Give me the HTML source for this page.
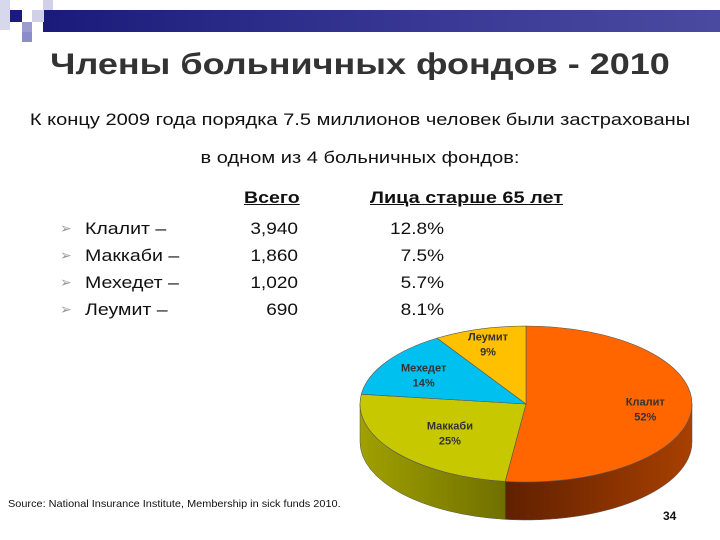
<!DOCTYPE html>
<html><head><meta charset="utf-8">
<style>
body{margin:0;width:720px;height:540px;background:#fff;position:relative;overflow:hidden;font-family:"Liberation Sans","DejaVu Sans",sans-serif;}
.abs{position:absolute;white-space:nowrap;}
</style></head>
<body>
<div class="abs" style="left:43px;top:10px;width:677px;height:22px;background:linear-gradient(90deg,#1a1a7a,#3a3a96 60%,#4a4aa0);"></div>
<div class="abs" style="left:10px;top:10px;width:12px;height:12px;background:#1a1a80;"></div>
<div class="abs" style="left:0;top:0;width:10px;height:30px;background:#d8d8ec;"></div>
<div class="abs" style="left:32px;top:10px;width:12px;height:12px;background:#d0d0e8;"></div>
<div class="abs" style="left:22px;top:22px;width:10px;height:10px;background:#9c9cd0;"></div>
<div class="abs" style="left:22px;top:32px;width:10px;height:10px;background:#8c8cc8;"></div>
<div class="abs" style="left:43px;top:0;width:10px;height:10px;background:#d0d0e8;"></div>

<div class="abs" style="left:0;width:720px;top:48px;text-align:center;font-size:30px;font-weight:bold;color:#333;transform:scaleX(1.2);">Члены больничных фондов - 2010</div>
<div class="abs" style="left:0;width:720px;top:110px;text-align:center;font-size:17px;color:#111;transform:scaleX(1.18);">К концу 2009 года порядка 7.5 миллионов человек были застрахованы</div>
<div class="abs" style="left:0;width:720px;top:148px;text-align:center;font-size:17px;color:#111;transform:scaleX(1.18);">в одном из 4 больничных фондов:</div>

<div class="abs" style="left:244px;top:188px;font-size:17px;font-weight:bold;text-decoration:underline;color:#111;transform:scaleX(1.15);transform-origin:left;">Всего</div>
<div class="abs" style="left:370px;top:188px;font-size:17px;font-weight:bold;text-decoration:underline;color:#111;transform:scaleX(1.17);transform-origin:left;">Лица старше 65 лет</div>
<div id="table"></div>

<svg id="pie" class="abs" style="left:0;top:0" width="720" height="540"></svg>

<div class="abs" style="left:8px;top:498px;font-size:10.5px;color:#111;transform:scaleX(1.04);transform-origin:left;">Source: National Insurance Institute, Membership in sick funds 2010.</div>
<div class="abs" style="left:663px;top:509px;font-size:12px;font-weight:bold;color:#111;">34</div>

<script>
const funds = ["Клалит","Маккаби","Мехедет","Леумит"];
const totals = ["3,940","1,860","1,020","690"];
const over65 = ["12.8%","7.5%","5.7%","8.1%"];
const shares = [52,25,14,9];

const tbl = document.getElementById('table');
funds.forEach((f,i)=>{
  const y = 219 + i*27;
  const b = document.createElement('div'); b.className='abs';
  
  
  b.style.cssText=`left:60px;top:${y+1}px;font-size:14px;color:#999;`; b.textContent='➢'; tbl.appendChild(b);
  const n = document.createElement('div'); n.className='abs';
  
  
  n.style.cssText=`left:85px;top:${y}px;font-size:17px;color:#111;transform:scaleX(1.15);transform-origin:left;`; n.textContent=f+' –'; tbl.appendChild(n);
  const t = document.createElement('div'); t.className='abs';
  
  
  t.style.cssText=`left:200px;width:98px;text-align:right;top:${y}px;font-size:17px;color:#111;transform:scaleX(1.12);transform-origin:right;`; t.textContent=totals[i]; tbl.appendChild(t);
  const o = document.createElement('div'); o.className='abs';
  
  
  o.style.cssText=`left:340px;width:104px;text-align:right;top:${y}px;font-size:17px;color:#111;transform:scaleX(1.12);transform-origin:right;`; o.textContent=over65[i]; tbl.appendChild(o);
});

const svg = document.getElementById('pie');
const NS='http://www.w3.org/2000/svg';
const cx=526, cy=404, rx=166, ry=78, depth=38;
const colors=["#ff6600","#c8c800","#00c0f0","#ffc000"];
const sides=[["#a84000","#602000"],["#a0a000","#707000"],["#0090b0","#006080"],["#c09000","#806000"]];
const pt=(a,dy=0)=>{const r=a*Math.PI/180;return [cx+rx*Math.sin(r), cy-ry*Math.cos(r)+dy];};
const total=shares.reduce((a,b)=>a+b,0);
let defs=document.createElementNS(NS,'defs'); svg.appendChild(defs);
let start=0; const angs=[];
shares.forEach(v=>{const e=start+v/total*360; angs.push([start,e]); start=e;});
angs.forEach(([a,b],i)=>{
  const s=Math.max(a,90), e=Math.min(b,270);
  if(e<=s) return;
  const g=document.createElementNS(NS,'linearGradient'); g.id='sg'+i;
  g.innerHTML=`<stop offset="0" stop-color="${sides[i][0]}"/><stop offset="1" stop-color="${sides[i][1]}"/>`;
  if(i===0){g.setAttribute('x1','1');g.setAttribute('x2','0');}
  defs.appendChild(g);
  const p1=pt(s),p2=pt(e),p3=pt(e,depth),p4=pt(s,depth);
  const large=(e-s)>180?1:0;
  const p=document.createElementNS(NS,'path');
  p.setAttribute('d',`M${p1} A${rx},${ry} 0 ${large} 1 ${p2} L${p3} A${rx},${ry} 0 ${large} 0 ${p4} Z`);
  p.setAttribute('fill','url(#sg'+i+')');
  p.setAttribute('stroke','#555');p.setAttribute('stroke-width','0.5');
  
  
  svg.appendChild(p);
});
angs.forEach(([a,b],i)=>{
  const p1=pt(a),p2=pt(b);const large=(b-a)>180?1:0;
  const p=document.createElementNS(NS,'path');
  p.setAttribute('d',`M${cx},${cy} L${p1} A${rx},${ry} 0 ${large} 1 ${p2} Z`);
  p.setAttribute('fill',colors[i]);p.setAttribute('stroke','#555');p.setAttribute('stroke-width','0.6');
  
  
  svg.appendChild(p);
});
const labelAng=angs.map(([a,b])=>(a+b)/2);
angs.forEach(([a,b],i)=>{
  const m=labelAng[i]*Math.PI/180;
  const k=[0.72,0.58,0.73,0.82][i];
  const x=cx+rx*k*Math.sin(m), y=cy-ry*k*Math.cos(m);
  const t=document.createElementNS(NS,'text');
  t.setAttribute('x',x);t.setAttribute('y',y-2);t.setAttribute('text-anchor','middle');
  t.setAttribute('font-size','11');t.setAttribute('font-weight','bold');t.setAttribute('fill','#333');
  t.setAttribute('font-family','"Liberation Sans","DejaVu Sans",sans-serif');
  t.innerHTML=`<tspan x="${x}">${funds[i]}</tspan><tspan x="${x}" dy="15">${shares[i]}%</tspan>`;
  
  
  svg.appendChild(t);
});
</script>
</body></html>
